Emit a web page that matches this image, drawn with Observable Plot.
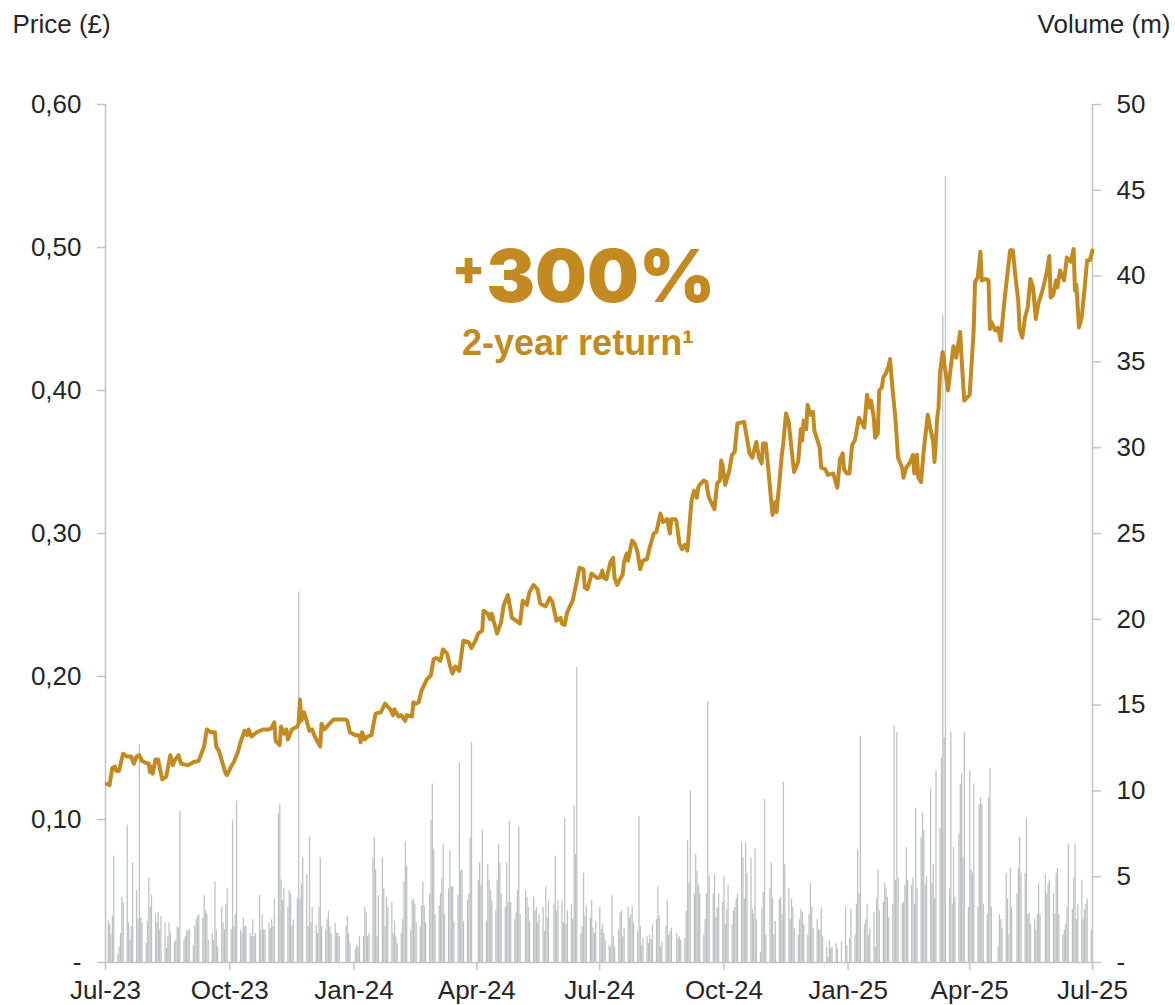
<!DOCTYPE html>
<html><head><meta charset="utf-8">
<script src="https://cdn.jsdelivr.net/npm/d3@7"></script>
<script src="https://cdn.jsdelivr.net/npm/@observablehq/plot@0.6"></script>
<style>
html,body{margin:0;padding:0;background:#fff;}
#chart{width:1175px;height:1005px;}
</style></head><body><div id="chart"></div>
<script>
// ---- axis ticks / labels ----
const priceTicks = [0, 0.1, 0.2, 0.3, 0.4, 0.5, 0.6];
const volumeTicks = [0, 5, 10, 15, 20, 25, 30, 35, 40, 45, 50];
const xTicks = ["2023-07-01","2023-10-01","2024-01-01","2024-04-01","2024-07-01","2024-10-01","2025-01-01","2025-04-01","2025-07-01"];
const xTickLabels = ["Jul-23","Oct-23","Jan-24","Apr-24","Jul-24","Oct-24","Jan-25","Apr-25","Jul-25"];
const priceMax = 0.6, volumeMax = 50;

// ---- share price (£) ----
const price = [
["2023-07-02",.125],["2023-07-04",.124],["2023-07-06",.136],["2023-07-08",.137],["2023-07-09",.134],["2023-07-11",.134],["2023-07-14",.146],["2023-07-17",.144],["2023-07-20",.144],["2023-07-22",.139],["2023-07-24",.144],["2023-07-26",.145],["2023-07-28",.141],["2023-07-30",.140],["2023-08-02",.139],["2023-08-03",.133],["2023-08-04",.137],["2023-08-05",.132],["2023-08-07",.142],["2023-08-09",.142],["2023-08-10",.137],["2023-08-12",.128],["2023-08-15",.130],["2023-08-18",.145],["2023-08-20",.138],["2023-08-21",.141],["2023-08-24",.145],["2023-08-26",.139],["2023-08-31",.138],["2023-09-04",.140],["2023-09-08",.141],["2023-09-12",.151],["2023-09-14",.163],["2023-09-17",.161],["2023-09-20",.161],["2023-09-21",.151],["2023-09-23",.148],["2023-09-28",.132],["2023-09-29",.131],["2023-10-02",.137],["2023-10-04",.140],["2023-10-07",.147],["2023-10-09",.154],["2023-10-12",.162],["2023-10-14",.159],["2023-10-15",.163],["2023-10-17",.158],["2023-10-21",.161],["2023-10-26",.163],["2023-10-30",.163],["2023-11-01",.164],["2023-11-03",.168],["2023-11-04",.155],["2023-11-07",.152],["2023-11-08",.165],["2023-11-10",.160],["2023-11-12",.163],["2023-11-13",.156],["2023-11-16",.163],["2023-11-20",.165],["2023-11-21",.167],["2023-11-22",.184],["2023-11-23",.169],["2023-11-25",.175],["2023-11-27",.169],["2023-11-29",.162],["2023-12-01",.163],["2023-12-03",.158],["2023-12-07",.151],["2023-12-08",.167],["2023-12-10",.163],["2023-12-12",.165],["2023-12-14",.167],["2023-12-17",.170],["2023-12-22",.170],["2023-12-26",.170],["2023-12-27",.169],["2023-12-29",.161],
["2024-01-02",.159],["2024-01-05",.159],["2024-01-06",.154],["2024-01-07",.161],["2024-01-09",.156],["2024-01-11",.158],["2024-01-14",.159],["2024-01-17",.174],["2024-01-21",.175],["2024-01-24",.181],["2024-01-25",.180],["2024-01-28",.177],["2024-01-30",.173],["2024-01-31",.177],["2024-02-03",.172],["2024-02-05",.173],["2024-02-08",.169],["2024-02-09",.173],["2024-02-13",.172],["2024-02-14",.182],["2024-02-16",.181],["2024-02-18",.182],["2024-02-20",.190],["2024-02-24",.198],["2024-02-27",.201],["2024-02-29",.212],["2024-03-02",.213],["2024-03-05",.211],["2024-03-07",.219],["2024-03-10",.216],["2024-03-12",.208],["2024-03-14",.202],["2024-03-16",.207],["2024-03-19",.204],["2024-03-22",.225],["2024-03-26",.224],["2024-03-28",.220],["2024-03-31",.225],["2024-04-02",.230],["2024-04-05",.232],["2024-04-06",.246],["2024-04-09",.244],["2024-04-11",.240],["2024-04-12",.244],["2024-04-14",.237],["2024-04-16",.230],["2024-04-19",.238],["2024-04-21",.250],["2024-04-24",.257],["2024-04-27",.241],["2024-04-30",.239],["2024-05-03",.237],["2024-05-05",.253],["2024-05-08",.250],["2024-05-10",.259],["2024-05-13",.264],["2024-05-16",.261],["2024-05-18",.251],["2024-05-22",.249],["2024-05-25",.255],["2024-05-27",.252],["2024-05-30",.239],["2024-06-02",.241],["2024-06-03",.237],["2024-06-05",.236],["2024-06-07",.245],["2024-06-11",.253],["2024-06-13",.262],["2024-06-16",.276],["2024-06-19",.275],["2024-06-20",.262],["2024-06-22",.261],["2024-06-25",.272],["2024-06-29",.269],
["2024-07-01",.269],["2024-07-03",.274],["2024-07-04",.269],["2024-07-06",.268],["2024-07-09",.280],["2024-07-11",.283],["2024-07-12",.269],["2024-07-14",.264],["2024-07-16",.268],["2024-07-18",.271],["2024-07-19",.280],["2024-07-21",.286],["2024-07-22",.281],["2024-07-25",.295],["2024-07-27",.293],["2024-07-29",.287],["2024-07-31",.275],["2024-08-02",.281],["2024-08-05",.282],["2024-08-07",.290],["2024-08-10",.300],["2024-08-12",.301],["2024-08-15",.314],["2024-08-17",.308],["2024-08-20",.310],["2024-08-22",.300],["2024-08-23",.310],["2024-08-26",.310],["2024-08-27",.308],["2024-08-29",.293],["2024-08-31",.289],["2024-09-02",.292],["2024-09-04",.288],["2024-09-07",.323],["2024-09-09",.330],["2024-09-11",.325],["2024-09-12",.332],["2024-09-13",.334],["2024-09-16",.337],["2024-09-18",.336],["2024-09-19",.329],["2024-09-20",.325],["2024-09-24",.317],["2024-09-26",.335],["2024-09-28",.337],["2024-09-29",.351],["2024-09-30",.348],["2024-10-02",.334],["2024-10-05",.344],["2024-10-07",.355],["2024-10-09",.357],["2024-10-11",.377],["2024-10-16",.378],["2024-10-18",.367],["2024-10-20",.356],["2024-10-22",.353],["2024-10-25",.364],["2024-10-27",.353],["2024-10-29",.349],["2024-10-30",.363],["2024-11-01",.363],["2024-11-03",.344],["2024-11-05",.323],["2024-11-06",.313],["2024-11-08",.322],["2024-11-09",.315],["2024-11-11",.335],["2024-11-13",.356],["2024-11-14",.363],["2024-11-16",.384],["2024-11-18",.378],["2024-11-20",.360],["2024-11-22",.343],["2024-11-25",.350],["2024-11-27",.373],["2024-11-28",.365],["2024-11-29",.379],["2024-12-01",.373],["2024-12-02",.390],["2024-12-04",.383],["2024-12-06",.385],["2024-12-07",.372],["2024-12-09",.366],["2024-12-11",.360],["2024-12-12",.346],["2024-12-15",.345],["2024-12-17",.341],["2024-12-21",.342],["2024-12-24",.332],["2024-12-26",.352],["2024-12-28",.356],["2024-12-29",.345],["2024-12-31",.342],
["2025-01-02",.342],["2025-01-04",.362],["2025-01-06",.365],["2025-01-07",.370],["2025-01-09",.381],["2025-01-12",.376],["2025-01-13",.374],["2025-01-15",.397],["2025-01-17",.388],["2025-01-18",.393],["2025-01-20",.381],["2025-01-21",.367],["2025-01-23",.370],["2025-01-24",.400],["2025-01-26",.402],["2025-01-27",.409],["2025-01-29",.412],["2025-01-31",.417],["2025-02-01",.422],["2025-02-03",.400],["2025-02-05",.381],["2025-02-07",.353],["2025-02-10",.346],["2025-02-11",.339],["2025-02-13",.346],["2025-02-16",.350],["2025-02-18",.355],["2025-02-19",.342],["2025-02-21",.355],["2025-02-22",.339],["2025-02-24",.336],["2025-02-26",.358],["2025-03-01",.383],["2025-03-03",.373],["2025-03-05",.364],["2025-03-06",.350],["2025-03-08",.381],["2025-03-09",.388],["2025-03-10",.412],["2025-03-12",.427],["2025-03-14",.414],["2025-03-16",.400],["2025-03-18",.416],["2025-03-20",.431],["2025-03-22",.423],["2025-03-23",.429],["2025-03-25",.441],["2025-03-26",.423],["2025-03-28",.393],["2025-04-01",.397],["2025-04-04",.442],["2025-04-05",.476],["2025-04-07",.479],["2025-04-09",.497],["2025-04-10",.477],["2025-04-13",.478],["2025-04-15",.477],["2025-04-16",.443],["2025-04-17",.448],["2025-04-20",.442],["2025-04-22",.444],["2025-04-24",.435],["2025-04-27",.465],["2025-05-01",.498],["2025-05-03",.498],["2025-05-05",.479],["2025-05-07",.463],["2025-05-08",.443],["2025-05-10",.437],["2025-05-12",.451],["2025-05-14",.458],["2025-05-16",.478],["2025-05-18",.472],["2025-05-20",.450],["2025-05-22",.461],["2025-05-25",.470],["2025-05-28",.482],["2025-05-30",.494],["2025-05-31",.465],["2025-06-02",.467],["2025-06-04",.477],["2025-06-05",.472],["2025-06-07",.484],["2025-06-10",.477],["2025-06-12",.493],["2025-06-15",.490],["2025-06-17",.499],["2025-06-18",.470],["2025-06-19",.474],["2025-06-21",.444],["2025-06-23",.451],["2025-06-25",.470],["2025-06-27",.491],["2025-06-29",.491],["2025-07-01",.498]
];

// ---- daily volume (m), one value per weekday of each month ----
const vJul23 = [2.4,2.2,1.6,2.7,6.2,0.5,0.9,1.7,3.8,3.5,8.0,2.3,1.3,2.1,5.8,4.2,2.5,12.7,2.6,2.3,1.1];
const vAug23 = [2.4,4.9,3.2,3.9,2.8,2.3,2.9,1.9,2.7,2.3,0.8,1.5,2.3,1.7,1.2,1.3,2.1,2.0,8.8,1.3,1.5,1.8,1.9];
const vSep23 = [1.9,1.0,2.1,2.5,2.7,2.8,2.6,3.9,3.0,2.8,1.3,1.7,1.3,4.7,1.9,0.9,3.2,2.3,1.9,3.4,4.3];
const vOct23 = [1.9,8.3,2.1,2.8,9.4,1.9,1.7,2.6,2.1,2.1,1.7,1.5,2.5,1.5,1.7,3.9,1.9,2.8,1.9,1.9,2.3,2.0];
const vNov23 = [2.5,2.1,3.7,8.7,9.2,4.8,3.6,4.3,3.2,4.2,4.0,2.1,2.5,3.7,21.6,3.7,4.6,6.1,5.1,2.1,7.3,2.3];
const vDec23 = [3.2,2.2,1.7,3.2,6.1,2.1,1.9,2.5,3.0,2.1,1.7,2.3,1.7,1.7,1.5,0,0,2.1,2.7,1.7,1.1];
const vJan24 = [0,0.8,1.0,0.9,1.5,1.5,3.2,2.9,1.5,1.7,6.1,7.3,5.4,1.5,3.9,6.1,4.3,2.1,3.8,3.2,3.5,1.7,2.4];
const vFeb24 = [1.5,1.1,1.7,2.5,4.7,7.0,5.6,1.9,3.6,3.7,3.4,2.3,2.1,3.3,4.7,3.3,2.3,4.0,8.3,10.4,6.6];
const vMar24 = [2.8,3.3,4.0,4.9,6.9,2.8,4.3,6.5,4.4,4.4,2.4,3.9,11.6,5.3,5.4,2.4,3.6,4.0,7.3,12.8,0];
const vApr24 = [0,4.8,5.8,4.5,7.7,2.4,5.7,4.8,4.2,3.6,3.0,4.8,6.9,5.8,4.0,3.2,5.8,3.5,8.2,3.5,2.5,2.9];
const vMay24 = [4.2,7.9,2.8,0,4.2,3.8,3.2,2.4,3.8,3.0,3.2,2.3,2.8,3.2,1.8,4.4,2.6,3.6,0,3.4,6.2,3.0,3.6];
const vJun24 = [3.6,2.3,8.4,2.2,3.0,3.4,2.5,9.1,6.3,17.2,1.7,2.1,5.2,2.7,3.3,2.6,3.6,2.0,1.7,2.4];
const vJul24 = [3.2,1.9,2.2,1.7,1.3,1.0,0.9,3.9,1.5,0.9,1.9,2.9,3.0,1.5,2.0,3.2,2.6,2.8,3.3,2.3,1.8,8.5,2.1];
const vAug24 = [1.0,1.4,1.5,1.1,1.6,1.3,2.2,2.5,4.4,2.7,0.9,1.2,2.1,3.6,1.6,1.8,2.0,0,1.7,1.4,1.5,1.3];
const vSep24 = [1.4,3.0,7.1,4.6,10.0,4.0,6.3,5.3,4.5,4.0,1.6,2.5,4.0,15.2,5.0,4.0,5.1,2.6,3.2,4.0,3.5];
const vOct24 = [5.0,2.2,3.1,4.5,2.2,3.0,3.2,3.7,4.0,7.0,6.1,3.7,7.0,5.2,6.1,3.1,2.8,6.6,2.5,0.6,3.1,4.1,9.5];
const vNov24 = [1.6,4.3,5.8,3.7,1.6,2.4,3.7,3.8,2.8,10.5,5.7,4.3,2.5,3.7,3.2,2.0,1.6,2.5,3.1,2.9,2.2];
const vDec24 = [1.6,2.8,4.6,3.2,2.0,2.5,1.9,1.9,3.2,1.5,0.9,0.3,1.3,0.8,0.9,1.1,0.8,0,0,1.2,3.2,1.0];
const vJan25 = [0,1.4,3.1,1.6,3.4,6.6,4.0,13.2,2.2,2.5,3.4,1.6,2.0,2.9,0.9,3.7,5.4,3.0,3.5,4.6,4.3,3.8,2.6];
const vFeb25 = [3.4,13.8,4.8,13.4,4.9,3.4,3.5,4.5,6.7,4.8,4.5,4.9,3.4,9.0,4.3,7.3,8.7,7.7,4.5,5.0];
const vMar25 = [10.1,4.6,5.7,3.7,11.2,7.8,11.9,37.7,13.1,45.8,4.3,13.4,3.4,6.7,3.8,7.5,10.4,11.0,6.1,13.4,3.2];
const vApr25 = [11.2,5.4,5.2,10.4,3.2,9.2,9.6,9.2,3.4,2.8,9.6,11.3,3.2,0,0,0.9,2.8,2.5,2.0,5.2,3.7,1.6];
const vMay25 = [5.5,3.2,0,4.0,5.5,7.3,5.2,5.2,8.4,2.8,2.9,2.2,2.5,1.9,2.8,4.6,2.8,0,5.1,4.0,4.6,4.8];
const vJun25 = [4.0,2.8,5.2,5.5,2.8,1.6,1.9,2.2,3.2,6.9,3.1,4.9,6.9,2.5,3.4,4.8,2.5,3.1,3.4,3.7,1.9];
const volumeMonths = [
  ["2023-07",vJul23],["2023-08",vAug23],["2023-09",vSep23],["2023-10",vOct23],["2023-11",vNov23],["2023-12",vDec23],
  ["2024-01",vJan24],["2024-02",vFeb24],["2024-03",vMar24],["2024-04",vApr24],["2024-05",vMay24],["2024-06",vJun24],
  ["2024-07",vJul24],["2024-08",vAug24],["2024-09",vSep24],["2024-10",vOct24],["2024-11",vNov24],["2024-12",vDec24],
  ["2025-01",vJan25],["2025-02",vFeb25],["2025-03",vMar25],["2025-04",vApr25],["2025-05",vMay25],["2025-06",vJun25]
];

// ---- annotation ----
const headline = "300%";
const headlineSign = "+";
const subline = "2-year return\u00B9";
const annotationAt = {date: "2024-04-08", price: 0.478};
const sublineAt = {date: "2024-06-15", price: 0.433};

// ---- build tables ----
const parse = s => new Date(s + "T00:00:00Z");
const priceData = price.map(([d, p]) => ({date: parse(d), price: p}));
const k = priceMax / volumeMax;
const volumeData = [];
for (const [m, arr] of volumeMonths) {
  const start = parse(m + "-01");
  const end = d3.utcMonth.offset(start, 1);
  const weekdays = d3.utcDays(start, end).filter(d => d.getUTCDay() % 6 !== 0);
  arr.forEach((v, i) => {
    if (i < weekdays.length && v > 0) volumeData.push({date: weekdays[i], date2: d3.utcDay.offset(weekdays[i], 1), y: v * k});
  });
}
const gold = "#c48a22";
const axisGrey = "#c3c3c3";
const textColor = "#262626";
const xDomain = [parse(xTicks[0]), parse(xTicks[xTicks.length - 1])];
const xLabel = new Map(xTicks.map((t, i) => [+parse(t), xTickLabels[i]]));

const chart = Plot.plot({
  width: 1175,
  height: 1005,
  marginLeft: 105,
  marginRight: 83,
  marginTop: 104,
  marginBottom: 43,
  style: {fontFamily: "'Liberation Sans', Arial, sans-serif", background: "#fff", overflow: "visible"},
  x: {type: "utc", domain: xDomain},
  y: {domain: [0, priceMax]},
  marks: [
    Plot.rect(volumeData, {x1: "date", x2: "date2", y1: d => 0, y2: "y", fill: "#bcc2c4", insetRight: 0.1}),
    Plot.ruleX([xDomain[0]], {stroke: axisGrey, strokeWidth: 1.5}),
    Plot.ruleX([xDomain[1]], {stroke: axisGrey, strokeWidth: 1.5}),
    Plot.ruleY([0], {stroke: axisGrey, strokeWidth: 1.5}),
    Plot.line(priceData, {x: "date", y: "price", stroke: gold, strokeWidth: 4, strokeLinejoin: "round", strokeLinecap: "round"}),
    Plot.axisY({anchor: "left", ticks: priceTicks, tickFormat: d => d === 0 ? "-" : d.toFixed(2).replace(".", ","),
      tickSize: 8, tickPadding: 16, fontSize: 26, label: null, stroke: axisGrey, strokeWidth: 1.5, fill: textColor, color: textColor}),
    Plot.axisY({anchor: "right", ticks: volumeTicks.map(v => v * k), tickFormat: d => { const v = Math.round(d / k); return v === 0 ? "-" : String(v); },
      tickSize: 8, tickPadding: 16, fontSize: 26, label: null, stroke: axisGrey, strokeWidth: 1.5, fill: textColor, color: textColor}),
    Plot.axisX({ticks: xTicks.map(parse), tickFormat: d => xLabel.get(+d), tickSize: 8, tickPadding: 10, fontSize: 26,
      label: null, stroke: axisGrey, strokeWidth: 1.5, fill: textColor, color: textColor}),
    Plot.text(["Price (£)"], {frameAnchor: "top-left", dx: -93, dy: -80, textAnchor: "start", lineAnchor: "middle", fontSize: 26, fill: textColor}),
    Plot.text(["Volume (m)"], {frameAnchor: "top-right", dx: 78, dy: -80, textAnchor: "end", lineAnchor: "middle", fontSize: 26, fill: textColor}),
    Plot.text([annotationAt], {x: d => parse(d.date), y: "price", text: () => headline, textAnchor: "start", lineAnchor: "middle",
      fontSize: 73, fontWeight: 900, fontFamily: "Inter, 'DejaVu Sans', sans-serif", fill: gold}),
    Plot.text([annotationAt], {x: d => parse(d.date), y: "price", text: () => headlineSign, textAnchor: "end", lineAnchor: "middle",
      dx: -1, dy: -9, fontSize: 48, fontWeight: 900, fontFamily: "Inter, 'DejaVu Sans', sans-serif", fill: gold}),
    Plot.text([sublineAt], {x: d => parse(d.date), y: "price", text: () => subline, textAnchor: "middle", lineAnchor: "middle",
      fontSize: 36, fontWeight: 700, fill: gold})
  ]
});
document.getElementById("chart").appendChild(chart);
</script></body></html>
